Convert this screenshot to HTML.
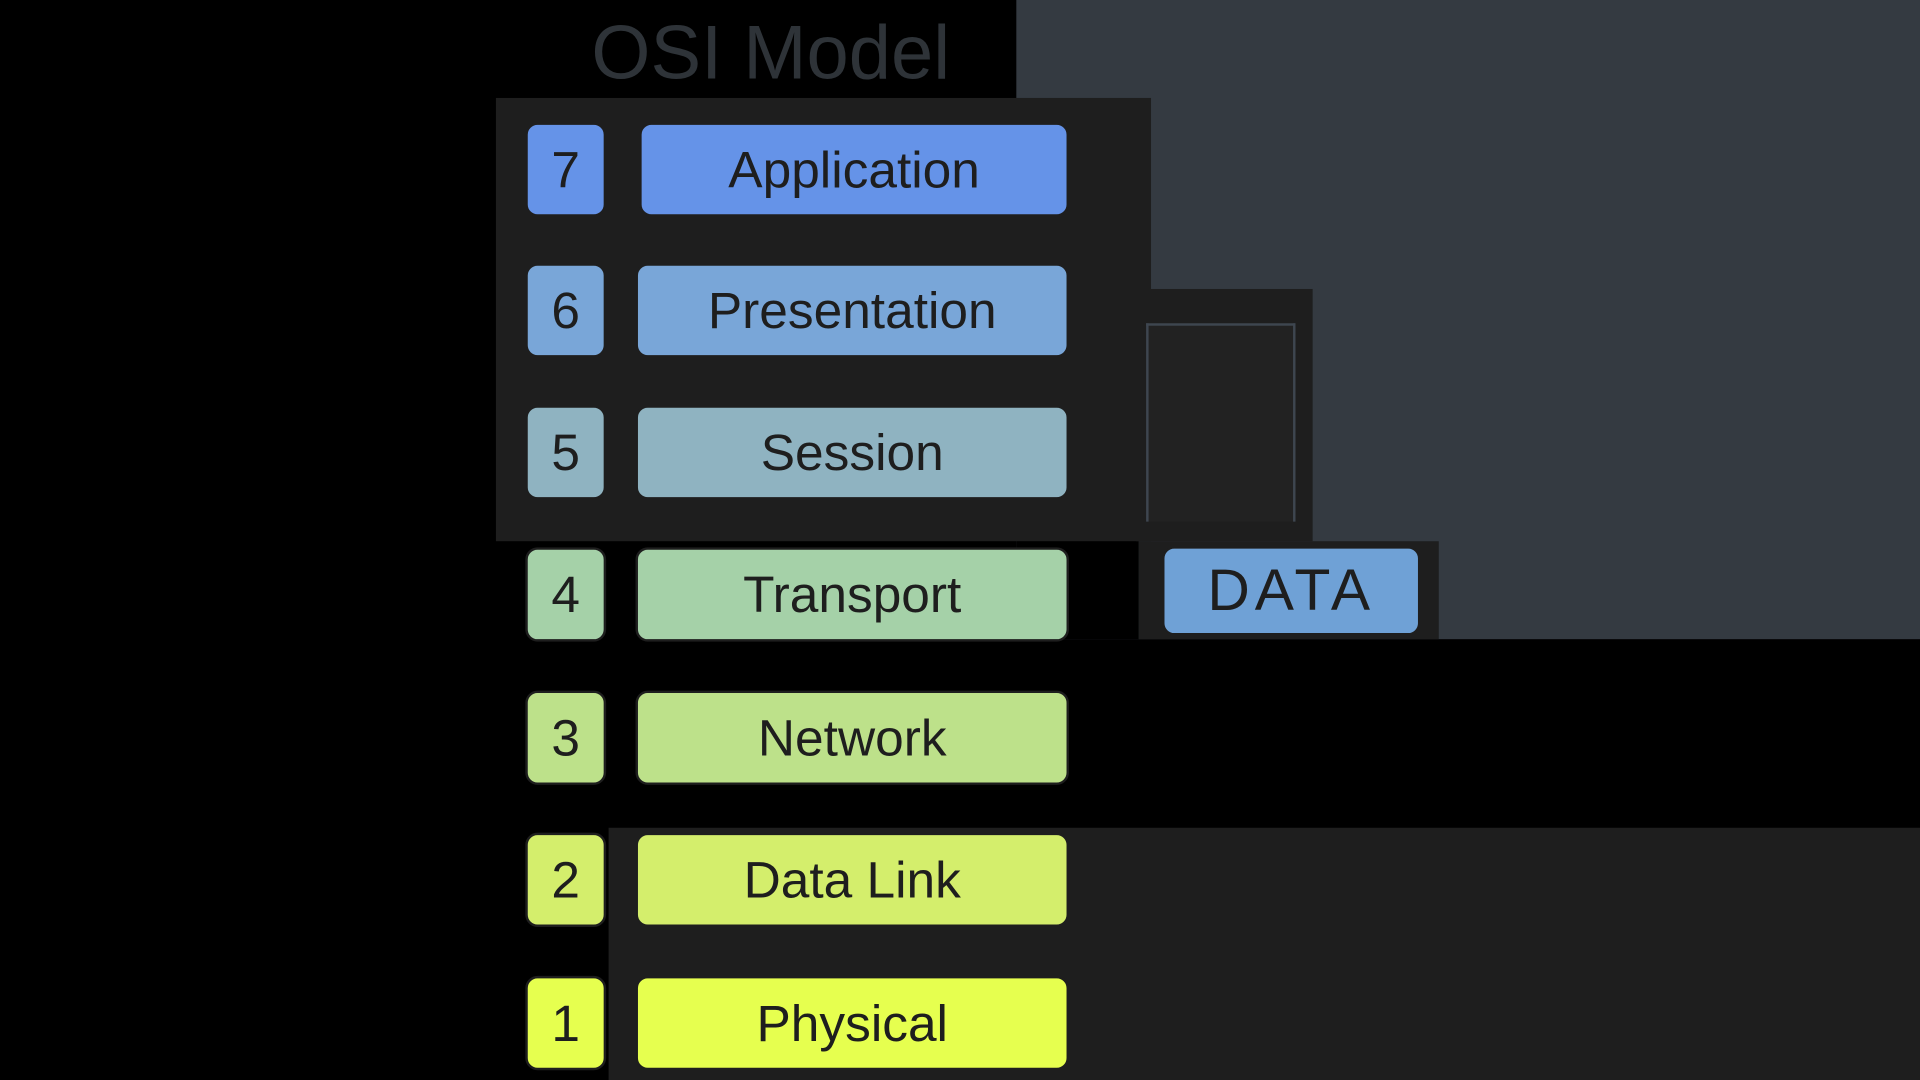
<!DOCTYPE html>
<html><head><meta charset="utf-8"><style>
html,body{margin:0;padding:0;background:#000;width:1920px;height:1080px;overflow:hidden}
#s{position:absolute;left:0;top:0;width:1568px;height:882px;transform:scale(1.22449);transform-origin:0 0;background:#000}
.r{position:absolute}
.b{position:absolute;border:2px solid #1e1e1e;border-radius:10px;box-sizing:border-box;display:flex;align-items:center;justify-content:center;font-family:"Liberation Sans Narrow","Liberation Sans",sans-serif;color:#1e1e1e;font-size:42px}
.n{left:429px;width:66px;height:77px}
.l{left:519px;width:354px;height:77px}
</style></head><body><div id="s">
<div class="r" style="left:830px;top:0;width:738px;height:522px;background:#343a41"></div>
<div class="r" style="left:830px;top:440px;width:100px;height:82px;background:#000"></div>
<div class="r" style="left:405px;top:80px;width:535px;height:362px;background:#1e1e1e"></div>
<div class="r" style="left:928px;top:236px;width:144px;height:206px;background:#1e1e1e"></div>
<div class="r" style="left:936px;top:264px;width:118px;height:160px;background:#222;border-left:2px solid #3e4650;border-right:2px solid #3e4650;border-top:2px solid #3e4650"></div>
<div class="r" style="left:930px;top:442px;width:245px;height:80px;background:#1e1e1e"></div>
<div class="r" style="left:497px;top:676px;width:1071px;height:206px;background:#1e1e1e"></div>
<div class="r" style="left:483px;top:8px;font-family:'Liberation Sans Narrow','Liberation Sans',sans-serif;font-size:62px;color:#2e3338">OSI Model</div>

<div class="b n" style="top:100px;background:#6593e8">7</div>
<div class="b l" style="top:100px;left:522px;width:351px;background:#6593e8">Application</div>
<div class="b n" style="top:215px;background:#79a6d8">6</div>
<div class="b l" style="top:215px;background:#79a6d8">Presentation</div>
<div class="b n" style="top:331px;background:#8fb3c1">5</div>
<div class="b l" style="top:331px;background:#8fb3c1">Session</div>
<div class="b n" style="top:447px;background:#a5d1a8">4</div>
<div class="b l" style="top:447px;background:#a5d1a8">Transport</div>
<div class="b n" style="top:564px;background:#bde18a">3</div>
<div class="b l" style="top:564px;background:#bde18a">Network</div>
<div class="b n" style="top:680px;background:#d4ee6c">2</div>
<div class="b l" style="top:680px;background:#d4ee6c">Data Link</div>
<div class="b n" style="top:797px;background:#e6ff4f">1</div>
<div class="b l" style="top:797px;background:#e6ff4f">Physical</div>
<div class="b" style="left:949px;top:446px;width:211px;height:73px;background:#6fa1d6;font-size:48px;letter-spacing:4px">DATA</div>
</div></body></html>
